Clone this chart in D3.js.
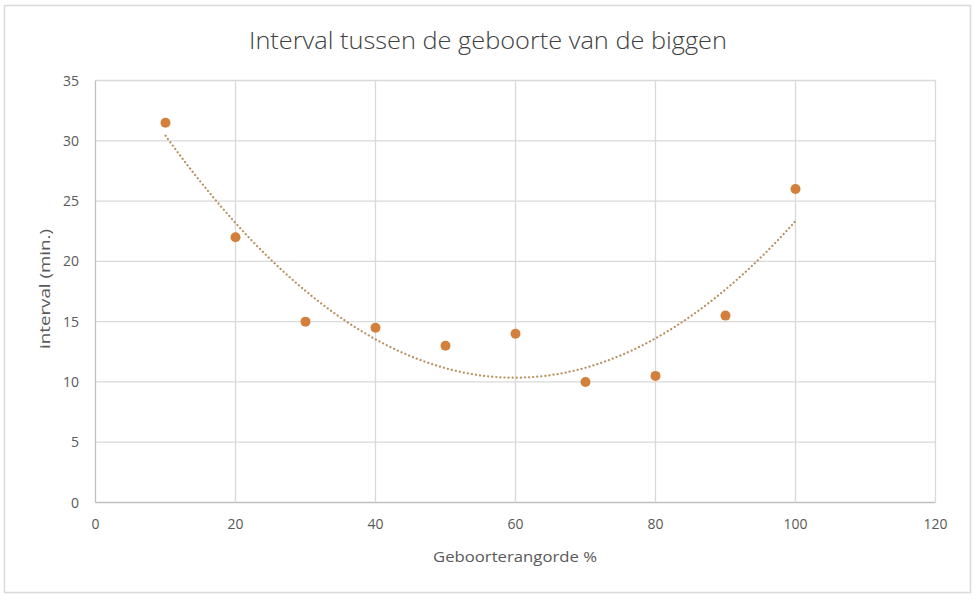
<!DOCTYPE html>
<html><head><meta charset="utf-8">
<script src="https://cdn.jsdelivr.net/npm/d3@7"></script>
<style>body{margin:0;background:#fff;} text{font-family:"Open Sans",sans-serif;}</style>
</head><body><svg id="c" width="978" height="600"></svg>
<script>
const xValues = [10, 20, 30, 40, 50, 60, 70, 80, 90, 100];
const yValues = [31.5, 22, 15, 14.5, 13, 14, 10, 10.5, 15.5, 26];
const xTicks = [0, 20, 40, 60, 80, 100, 120];
const yTicks = [0, 5, 10, 15, 20, 25, 30, 35];
const title = "Interval tussen de geboorte van de biggen";
const xTitle = "Geboorterangorde %";
const yTitle = "interval (min.)";

const svg = d3.select("#c");
svg.append("rect").attr("x",4.5).attr("y",5.5).attr("width",966).attr("height",587)
  .attr("fill","#fff").attr("stroke","#d9d9d9").attr("stroke-width",1.5);

const x = d3.scaleLinear().domain([0,120]).range([95.5,935.5]);
const y = d3.scaleLinear().domain([0,35]).range([502.5,80.5]);

const g = svg.append("g");
g.selectAll(".hg").data(yTicks).join("line")
  .attr("x1",x(0)).attr("x2",x(120)).attr("y1",d=>y(d)).attr("y2",d=>y(d))
  .attr("stroke",d=>d===0?"#bfbfbf":"#d9d9d9").attr("stroke-width",1.3);
g.selectAll(".vg").data(xTicks).join("line")
  .attr("y1",y(0)).attr("y2",y(35)).attr("x1",d=>x(d)).attr("x2",d=>x(d))
  .attr("stroke",d=>d===0?"#bfbfbf":"#d9d9d9").attr("stroke-width",1.3);

g.selectAll(".yt").data(yTicks).join("text")
  .attr("x",79).attr("y",d=>y(d)+5).attr("text-anchor","end")
  .attr("font-size",14).attr("fill","#595959").text(d=>d);
g.selectAll(".xt").data(xTicks).join("text")
  .attr("x",d=>x(d)).attr("y",529).attr("text-anchor","middle")
  .attr("font-size",14).attr("fill","#595959").text(d=>d);

svg.append("text").attr("x",488).attr("y",49).attr("text-anchor","middle")
  .attr("font-size",24).attr("fill","#404040").attr("font-weight",300)
  .attr("textLength",478).attr("lengthAdjust","spacingAndGlyphs").text(title);
svg.append("text").attr("x",515).attr("y",562).attr("text-anchor","middle")
  .attr("font-size",14.5).attr("fill","#595959")
  .attr("textLength",164).attr("lengthAdjust","spacingAndGlyphs").text(xTitle);
svg.append("text").attr("transform","translate(50,289) rotate(-90)").attr("text-anchor","middle")
  .attr("font-size",14.5).attr("fill","#595959")
  .attr("textLength",120).attr("lengthAdjust","spacingAndGlyphs").text(yTitle);

// quadratic least-squares trendline from the data
function quadFit(xs, ys){
  const n = xs.length; let S=[0,0,0,0,0], T=[0,0,0];
  for(let i=0;i<n;i++){ for(let k=0;k<5;k++) S[k]+=Math.pow(xs[i],k); for(let k=0;k<3;k++) T[k]+=ys[i]*Math.pow(xs[i],k); }
  const A=[[S[0],S[1],S[2],T[0]],[S[1],S[2],S[3],T[1]],[S[2],S[3],S[4],T[2]]];
  for(let i=0;i<3;i++){ for(let j=i+1;j<3;j++){ const f=A[j][i]/A[i][i]; for(let k=i;k<4;k++) A[j][k]-=f*A[i][k]; } }
  const c=[0,0,0];
  for(let i=2;i>=0;i--){ let s=A[i][3]; for(let k=i+1;k<3;k++) s-=A[i][k]*c[k]; c[i]=s/A[i][i]; }
  return c;
}
const c = quadFit(xValues, yValues);
const tx = d3.range(xValues[0], xValues[xValues.length-1]+0.01, 0.5);
const line = d3.line().x(d=>x(d)).y(d=>y(c[0]+c[1]*d+c[2]*d*d)).curve(d3.curveLinear);
g.append("path").datum(tx).attr("d",line).attr("fill","none")
  .attr("stroke","#b8915e").attr("stroke-width",2.2).attr("stroke-dasharray","0.1,4")
  .attr("stroke-linecap","round");

g.selectAll(".pt").data(xValues.map((d,i)=>[d,yValues[i]])).join("circle")
  .attr("cx",d=>x(d[0])).attr("cy",d=>y(d[1])).attr("r",5)
  .attr("fill","#d2803c");
</script></body></html>
